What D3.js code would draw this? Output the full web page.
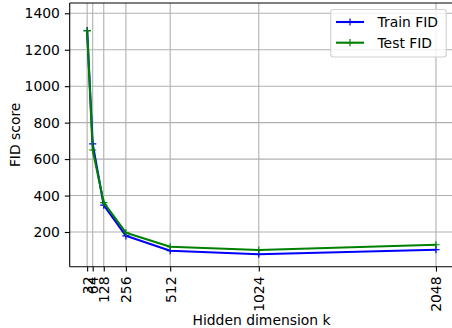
<!DOCTYPE html>
<html><head><meta charset="utf-8">
<script src="https://cdn.jsdelivr.net/npm/d3@7"></script>
<style>body{margin:0;background:#fff}svg{display:block}text{font-family:"DejaVu Sans",sans-serif;fill:#000}</style>
</head><body>
<script>
const dims = [32, 64, 128, 256, 512, 1024, 2048];
const trainFID = [1305, 683, 347, 179, 97, 78, 103];
const testFID = [1305, 650, 361, 196, 119, 101, 130];
const yTicks = [200, 400, 600, 800, 1000, 1200, 1400];
const seriesNames = ["Train FID", "Test FID"];

const W = 452, H = 328;
const L = 69.7, R = 453.4, T = 3, B = 266.7;
const fs = 13.9;
const svg = d3.select("body").append("svg").attr("width", W).attr("height", H);

const x = d3.scaleLinear().domain([-68.8, 2148.8]).range([L, R]);
const y = d3.scaleLinear().domain([9.6, 1456.5]).range([B, T]);

// grid
const g = svg.append("g");
g.selectAll(".gx").data(dims).join("line")
  .attr("x1", d => x(d)).attr("x2", d => x(d)).attr("y1", T).attr("y2", B)
  .attr("stroke", "#b0b0b0").attr("stroke-width", 1.1);
g.selectAll(".gy").data(yTicks).join("line")
  .attr("x1", L).attr("x2", R).attr("y1", d => y(d)).attr("y2", d => y(d))
  .attr("stroke", "#b0b0b0").attr("stroke-width", 1.1);

// axes
const xAxis = d3.axisBottom(x).tickValues(dims).tickSize(4.9).tickPadding(4.9).tickFormat(d3.format("d"));
const yAxis = d3.axisLeft(y).tickValues(yTicks).tickSize(4.9).tickPadding(4.9).tickFormat(d3.format("d"));
const gx = svg.append("g").attr("transform", `translate(0,${B})`).call(xAxis);
const gy = svg.append("g").attr("transform", `translate(${L},0)`).call(yAxis);
[gx, gy].forEach(a => {
  a.select(".domain").remove();
  a.selectAll(".tick line").attr("stroke", "#000").attr("stroke-width", 1.1);
  a.selectAll("text").style("font-size", fs + "px").style("font-family", "DejaVu Sans");
});
gx.selectAll(".tick text")
  .attr("transform", "rotate(-90)")
  .attr("text-anchor", "end")
  .attr("x", -9.8).attr("y", 0).attr("dy", "0.35em");

// spines
svg.append("line").attr("x1", L).attr("x2", L).attr("y1", T).attr("y2", B).attr("stroke", "#000").attr("stroke-width", 1.1);
svg.append("line").attr("x1", L).attr("x2", R).attr("y1", B).attr("y2", B).attr("stroke", "#000").attr("stroke-width", 1.1);
svg.append("line").attr("x1", L).attr("x2", R).attr("y1", T).attr("y2", T).attr("stroke", "#000").attr("stroke-width", 1.1);

// lines
const series = [
  {name: seriesNames[0], vals: trainFID, color: "blue"},
  {name: seriesNames[1], vals: testFID, color: "green"}
];
const line = d3.line().x(d => x(d[0])).y(d => y(d[1]));
const ms = 3.6;
series.forEach(s => {
  const pts = dims.map((d, i) => [d, s.vals[i]]);
  svg.append("path").attr("d", line(pts)).attr("fill", "none")
    .attr("stroke", s.color).attr("stroke-width", 2.1).attr("stroke-linejoin", "round");
  const mk = svg.append("g");
  pts.forEach(p => {
    const cx = x(p[0]), cy = y(p[1]);
    mk.append("path").attr("d", `M${cx - ms},${cy}H${cx + ms}M${cx},${cy - ms}V${cy + ms}`)
      .attr("stroke", s.color).attr("stroke-width", 1.2);
  });
});

// legend
const lg = svg.append("g");
lg.append("rect").attr("x", 330.7).attr("y", 9.5).attr("width", 115.5).attr("height", 47.5)
  .attr("rx", 3).attr("fill", "#fff").attr("fill-opacity", 0.8).attr("stroke", "#d0d0d0").attr("stroke-width", 1.1);
series.forEach((s, i) => {
  const ly = 22 + i * 20.7;
  lg.append("line").attr("x1", 336).attr("x2", 364).attr("y1", ly).attr("y2", ly)
    .attr("stroke", s.color).attr("stroke-width", 2.1);
  lg.append("path").attr("d", `M${350 - ms},${ly}H${350 + ms}M350,${ly - ms}V${ly + ms}`)
    .attr("stroke", s.color).attr("stroke-width", 1.2);
  lg.append("text").attr("x", 377.5).attr("y", ly).attr("dy", "0.35em")
    .style("font-size", fs + "px").text(s.name);
});

// axis labels
svg.append("text").attr("x", (L + R) / 2).attr("y", 325).attr("text-anchor", "middle")
  .style("font-size", fs + "px").text("Hidden dimension k");
svg.append("text").attr("transform", `translate(20,${(T + B) / 2}) rotate(-90)`)
  .attr("text-anchor", "middle").style("font-size", fs + "px").text("FID score");
</script>
</body></html>
